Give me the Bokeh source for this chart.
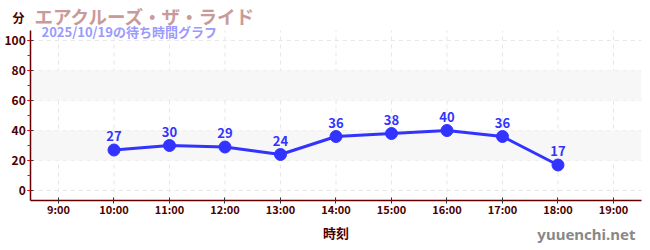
from bokeh.plotting import figure
from bokeh.models import (Label, BoxAnnotation, FixedTicker, SingleIntervalTicker,
                          ColumnDataSource, Range1d, LabelSet)
from bokeh.core.properties import value
from bokeh.embed import file_html
from bokeh.resources import INLINE

title = "エアクルーズ・ザ・ライド"
subtitle = "2025/10/19の待ち時間グラフ"
times = ["10:00", "11:00", "12:00", "13:00", "14:00", "15:00", "16:00", "17:00", "18:00"]
waits = [27, 30, 29, 24, 36, 38, 40, 36, 17]
tick_hours = [9, 10, 11, 12, 13, 14, 15, 16, 17, 18, 19]
tick_labels = [f"{h}:00" for h in tick_hours]
y_ticks = [0, 20, 40, 60, 80, 100]

# plotting area (axis extents) and the canvas extents in data units
X0, X1 = 8.5, 19.5
Y0, Y1 = -6.67, 106.67

hours = [int(t.split(":")[0]) + int(t.split(":")[1]) / 60 for t in times]
src = ColumnDataSource(dict(x=hours, y=waits, lbl=[str(w) for w in waits]))

FONT = "Noto Sans CJK JP"
AX = "#660000"
LBL = "#4d0000"
BLUE = "#3333ff"

p = figure(width=650, height=250, output_backend="svg", toolbar_location=None,
           x_range=Range1d(7.955, 19.667), y_range=Range1d(-40, 126.67),
           min_border=0)
p.outline_line_color = None
p.background_fill_color = "white"
p.border_fill_color = "white"
p.grid.visible = False

for b, t in [(20, 40), (60, 80)]:
    p.add_layout(BoxAnnotation(left=X0, right=X1, bottom=b, top=t, fill_color="#f7f7f7",
                               fill_alpha=1, line_color=None, level="underlay"))

# dashed grid lines limited to the plotting area
p.multi_line(xs=[[X0, X1] for _ in y_ticks], ys=[[v, v] for v in y_ticks],
             line_color="#e6e6e6", line_dash="4 4", line_width=1, level="underlay")
p.multi_line(xs=[[h, h] for h in tick_hours], ys=[[Y0, Y1] for _ in tick_hours],
             line_color="#e6e6e6", line_dash="4 4", line_width=1, level="underlay")

p.xaxis.fixed_location = Y0
p.yaxis.fixed_location = X0
p.xaxis.bounds = (X0, X1)
p.yaxis.bounds = (Y0, Y1)
p.xaxis.ticker = FixedTicker(ticks=tick_hours)
p.xaxis.major_label_overrides = {h: l for h, l in zip(tick_hours, tick_labels)}
p.yaxis.ticker = SingleIntervalTicker(interval=20, num_minor_ticks=2)

for ax in (p.xaxis[0], p.yaxis[0]):
    ax.axis_line_color = AX
    ax.axis_line_width = 1.5
    ax.major_tick_line_color = "#333333"
    ax.major_tick_in = 3
    ax.major_tick_out = 3
    ax.major_label_text_color = LBL
    ax.major_label_text_font = FONT
    ax.major_label_text_font_style = "bold"
    ax.major_label_standoff = 2
p.xaxis.major_label_standoff = -3
p.xaxis.minor_tick_line_color = None
p.xaxis.major_label_text_font_size = "11px"
p.yaxis.major_label_text_font_size = "12px"
p.yaxis.minor_tick_line_color = "red"
p.yaxis.minor_tick_in = 0
p.yaxis.minor_tick_out = 3

p.xaxis.axis_label = "時刻"
p.xaxis.axis_label_text_font = FONT
p.xaxis.axis_label_text_font_style = "bold"
p.xaxis.axis_label_text_font_size = "13px"
p.xaxis.axis_label_text_color = LBL
p.xaxis.axis_label_standoff = 3

p.line("x", "y", source=src, line_color=BLUE, line_width=3)
p.scatter("x", "y", source=src, size=12, fill_color=BLUE, line_color=BLUE)
p.add_layout(LabelSet(x="x", y="y", text="lbl", source=src, y_offset=9, text_align="center",
                      text_font=value(FONT), text_font_style="bold", text_font_size="13px",
                      text_color=BLUE))

# screen units: origin at bottom-left of the (full-canvas) frame
p.add_layout(Label(x=34, y=235, x_units="screen", y_units="screen", text=title,
                   text_font=FONT, text_font_style="bold", text_font_size="18.5px",
                   text_color="#c99a9a", text_baseline="middle"))
p.add_layout(Label(x=41, y=219, x_units="screen", y_units="screen", text=subtitle,
                   text_font=FONT, text_font_style="bold", text_font_size="13px",
                   text_color="#9a9aff", text_baseline="middle"))
p.add_layout(Label(x=12, y=233, x_units="screen", y_units="screen", text="分",
                   text_font=FONT, text_font_style="bold", text_font_size="12px",
                   text_color=LBL, text_baseline="middle"))
p.add_layout(Label(x=635, y=17, x_units="screen", y_units="screen", text="yuuenchi.net",
                   text_font="Noto Sans", text_font_style="bold", text_font_size="15px",
                   text_color="#888888", text_baseline="middle", text_align="right"))

open("out.html", "w").write(file_html(p, INLINE))
